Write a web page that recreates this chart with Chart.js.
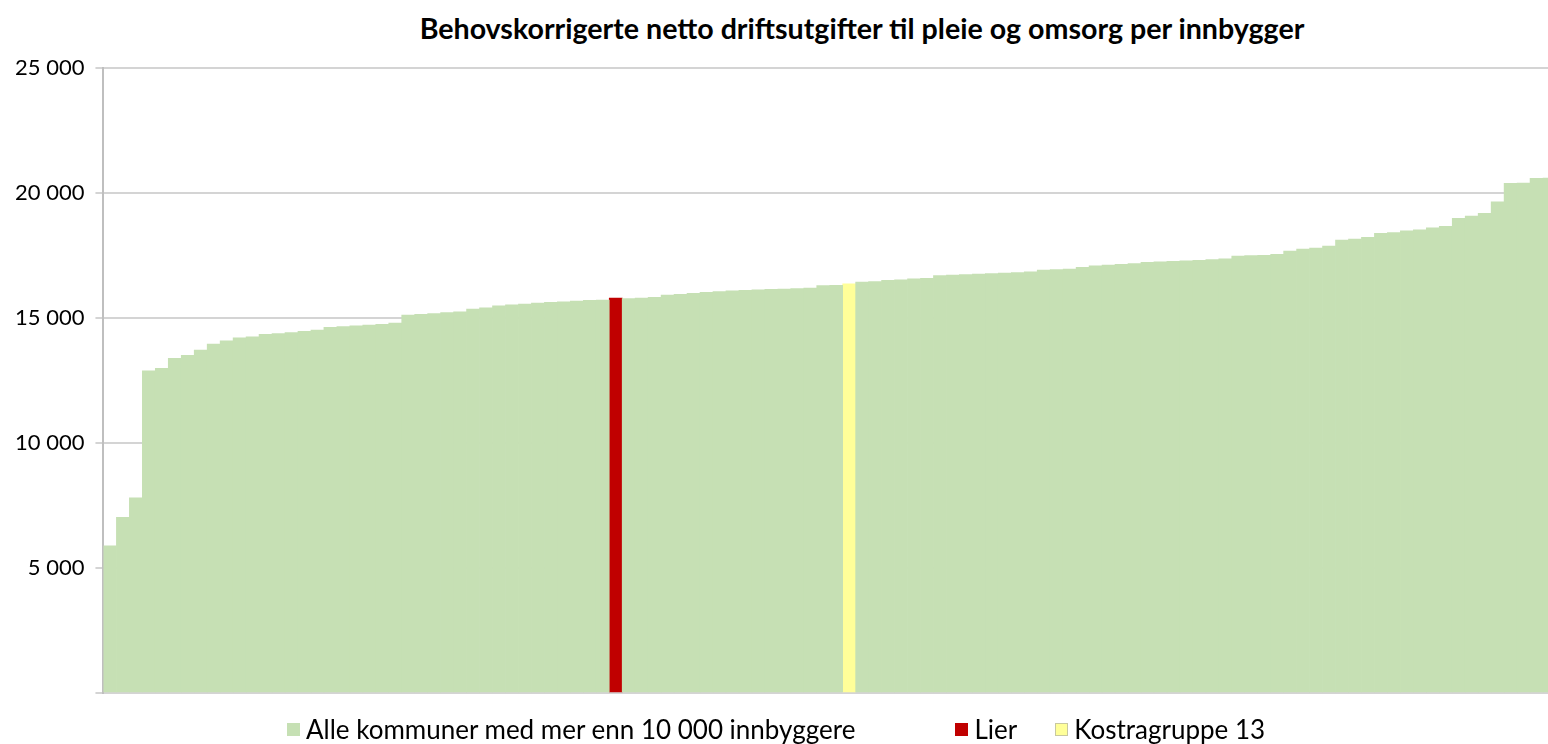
<!DOCTYPE html>
<html>
<head>
<meta charset="utf-8">
<script src="https://cdn.jsdelivr.net/npm/chart.js@4"></script>
<style>
  body { margin: 0; overflow: hidden; background: #fff; font-family: Lato, "Open Sans", sans-serif; }
  #title { position: absolute; top: 11px; left: 0; width: 1724px; text-align: center; font-weight: bold; font-size: 28.6px; color: #000; }
  #wrap { position: absolute; left: 0; top: 0; }
  #legend { position: absolute; top: 713px; left: 287px; display: flex; font-size: 26px; color: #000; }
  .item { display: flex; align-items: center; }
  .box { width: 13px; height: 13px; margin-right: 6px; box-sizing: border-box; }
</style>
</head>
<body>
<div id="title">Behovskorrigerte netto driftsutgifter til pleie og omsorg per innbygger</div>
<div id="wrap"><canvas id="myBarChart" width="1556" height="744"></canvas></div>
<div id="legend"></div>
<script>
// verdier per kommune, sortert stigende (lest av figuren)
const kommuneVerdier = [
  5890, 7030, 7810, 12890, 12990, 13390, 13510, 13720, 13960, 14090,
  14210, 14250, 14350, 14380, 14420, 14470, 14520, 14630, 14660, 14690,
  14720, 14750, 14800, 15120, 15150, 15180, 15220, 15250, 15360, 15410,
  15490, 15530, 15560, 15600, 15630, 15650, 15680, 15710, 15720, 15800,
  15780, 15800, 15830, 15920, 15950, 15990, 16030, 16060, 16090, 16110,
  16130, 16150, 16160, 16180, 16200, 16300, 16310, 16370, 16440, 16460,
  16510, 16530, 16570, 16590, 16700, 16720, 16740, 16760, 16780, 16800,
  16820, 16850, 16920, 16940, 16960, 17030, 17090, 17120, 17150, 17180,
  17230, 17250, 17270, 17290, 17310, 17340, 17370, 17480, 17500, 17510,
  17550, 17680, 17760, 17800, 17880, 18120, 18160, 18230, 18390, 18420,
  18490, 18530, 18610, 18670, 18990, 19080, 19190, 19650, 20390, 20400,
  20590, 20600
]
const lierIndex = 39
const kostraIndex = 57

const seriesNames = ['Alle kommuner med mer enn 10 000 innbyggere', 'Lier', 'Kostragruppe 13']
const seriesColors = ['#C6E0B4', '#C00000', '#FFFF99']
const yTicks = [0, 5000, 10000, 15000, 20000, 25000]

const categories = kommuneVerdier.map(() => '')
const alle = kommuneVerdier.map((v, i) => (i === lierIndex || i === kostraIndex) ? null : v)
const lier = kommuneVerdier.map((v, i) => i === lierIndex ? v : null)
const kostra = kommuneVerdier.map((v, i) => i === kostraIndex ? v : null)

function formatTall(value) {
  if (value === 0) return ''
  return value.toString().replace(/\B(?=(\d{3})+(?!\d))/g, ' ')
}

const ctx = document.getElementById('myBarChart').getContext('2d')
let barChart = new Chart(ctx, {
  type: 'bar',
  data: {
    labels: categories,
    datasets: [
      { label: seriesNames[0], data: alle, backgroundColor: seriesColors[0] },
      { label: seriesNames[1], data: lier, backgroundColor: seriesColors[1] },
      { label: seriesNames[2], data: kostra, backgroundColor: seriesColors[2] },
    ],
  },
  options: {
    responsive: false,
    animation: false,
    layout: { padding: { left: 4, top: 68, bottom: 51, right: 0 } },
    datasets: { bar: { barPercentage: 1, categoryPercentage: 1, borderWidth: 0 } },
    scales: {
      x: { stacked: true, display: false },
      y: {
        stacked: true,
        min: 0,
        max: 25000,
        afterBuildTicks: (axis) => { axis.ticks = yTicks.map((v) => ({ value: v })) },
        border: { color: '#BFBFBF', width: 2 },
        grid: { color: '#D4D4D4', lineWidth: 2, tickLength: 8 },
        ticks: {
          padding: 11,
          color: '#000',
          font: { family: 'Lato', size: 22 },
          callback: (value) => formatTall(value),
        },
      },
    },
    plugins: {
      legend: { display: false },
      tooltip: { enabled: false },
    },
  },
})

// egen legende under figuren
const legendGaps = [0, 100, 38]
const legend = document.getElementById('legend')
seriesNames.forEach((name, i) => {
  const item = document.createElement('div')
  item.className = 'item'
  item.style.marginLeft = legendGaps[i] + 'px'
  const box = document.createElement('div')
  box.className = 'box'
  box.style.background = seriesColors[i]
  box.style.border = '1px solid ' + (i === 2 ? '#C8C8A0' : seriesColors[i])
  item.appendChild(box)
  item.appendChild(document.createTextNode(name))
  legend.appendChild(item)
})
</script>
</body>
</html>
